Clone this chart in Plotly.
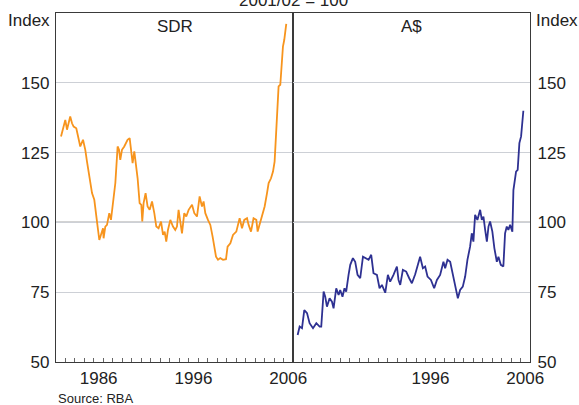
import plotly.graph_objects as go

# ---- data (decimal years, index 2001/02 = 100) ----
sdr_years = [1982.53, 1982.74, 1982.98, 1983.16, 1983.5, 1983.69, 1983.86, 1984.14, 1984.38, 1984.56,
             1984.85, 1985.09, 1985.27, 1985.54, 1985.8, 1986.04, 1986.25, 1986.39, 1986.57, 1986.78,
             1986.96, 1987.02, 1987.2, 1987.38, 1987.62, 1987.8, 1988.08, 1988.26, 1988.5, 1988.65,
             1988.78, 1988.96, 1989.2, 1989.42, 1989.55, 1989.77, 1989.94, 1990.08, 1990.26, 1990.47,
             1990.61, 1990.82, 1991.0, 1991.1, 1991.24, 1991.45, 1991.66, 1991.88, 1992.13, 1992.37,
             1992.58, 1992.82, 1993.08, 1993.29, 1993.46, 1993.63, 1993.81, 1994.06, 1994.34, 1994.58,
             1994.76, 1994.93, 1995.11, 1995.29, 1995.53, 1995.74, 1995.99, 1996.35, 1996.59, 1996.87,
             1997.15, 1997.4, 1997.57, 1997.75, 1998.03, 1998.28, 1998.52, 1998.7, 1998.88, 1999.09,
             1999.33, 1999.62, 1999.93, 2000.1, 2000.39, 2000.67, 2001.02, 2001.37, 2001.62, 2001.86,
             2002.15, 2002.32, 2002.57, 2002.84, 2003.13, 2003.27, 2003.48, 2003.73, 2004.01, 2004.26,
             2004.43, 2004.68, 2004.89, 2005.06, 2005.24, 2005.34, 2005.48, 2005.66, 2005.94, 2006.08,
             2006.29]
sdr_values = [130.8, 133.7, 136.7, 133.2, 137.9, 135.5, 134.3, 133.7, 130.2, 127.2,
              129.6, 126.0, 121.8, 115.2, 110.5, 108.1, 103.4, 98.5, 93.7, 96.2,
              97.9, 94.3, 98.5, 99.1, 103.3, 100.9, 110.5, 114.1, 127.2, 126.0,
              122.4, 126.0, 127.2, 128.4, 129.6, 130.2, 126.0, 121.2, 125.4, 120.0,
              115.8, 106.9, 106.3, 100.3, 106.9, 110.5, 105.7, 104.5, 107.5, 103.3,
              98.5, 97.9, 100.3, 95.5, 96.7, 93.1, 97.3, 100.9, 98.5, 97.3,
              98.5, 104.5, 99.7, 96.1, 103.3, 102.1, 104.5, 106.3, 103.3, 102.1,
              109.3, 105.7, 107.5, 103.3, 100.9, 99.1, 94.9, 91.3, 87.7, 86.6,
              87.2, 86.6, 86.8, 91.3, 92.5, 95.5, 96.7, 101.5, 97.9, 100.9,
              101.5, 99.1, 96.7, 101.5, 100.9, 96.7, 99.1, 102.1, 105.7, 110.5,
              114.1, 115.8, 118.2, 121.8, 132.0, 137.9, 148.7, 149.3, 163.0, 165.4,
              171.1]

aud_years = [1982.49, 1982.7, 1982.95, 1983.19, 1983.48, 1983.75, 1984.11, 1984.46, 1984.81, 1984.98,
             1985.23, 1985.4, 1985.58, 1985.86, 1986.11, 1986.28, 1986.56, 1986.81, 1986.98, 1987.22,
             1987.43, 1987.61, 1987.86, 1988.04, 1988.32, 1988.56, 1988.81, 1989.09, 1989.38, 1989.62,
             1989.97, 1990.25, 1990.49, 1990.85, 1991.13, 1991.38, 1991.73, 1992.01, 1992.25, 1992.6,
             1992.96, 1993.13, 1993.31, 1993.59, 1993.94, 1994.26, 1994.54, 1994.89, 1995.17, 1995.41,
             1995.7, 1995.94, 1996.19, 1996.55, 1996.89, 1997.18, 1997.52, 1997.87, 1998.05, 1998.3,
             1998.58, 1998.93, 1999.18, 1999.39, 1999.63, 1999.91, 2000.16, 2000.4, 2000.68, 2000.86,
             2001.03, 2001.21, 2001.45, 2001.74, 2001.92, 2002.09, 2002.27, 2002.45, 2002.62, 2002.79,
             2003.03, 2003.24, 2003.5, 2003.67, 2003.92, 2004.19, 2004.37, 2004.55, 2004.72, 2004.9,
             2005.14, 2005.25, 2005.53, 2005.7, 2005.88, 2006.06, 2006.3]
aud_values = [59.7, 62.7, 62.1, 68.6, 67.5, 63.9, 62.1, 63.9, 62.7, 62.7,
              75.2, 73.4, 69.8, 72.8, 71.6, 69.2, 76.4, 74.0, 75.8, 73.4,
              76.4, 75.2, 81.2, 84.8, 87.2, 85.9, 81.2, 80.0, 87.7, 87.2,
              86.6, 88.4, 81.8, 81.2, 76.4, 77.6, 74.8, 81.2, 78.8, 81.2,
              84.2, 79.4, 77.6, 83.0, 82.4, 80.0, 78.2, 81.4, 84.8, 87.7,
              83.6, 84.2, 80.6, 79.4, 76.4, 79.4, 81.2, 85.9, 83.6, 86.6,
              85.9, 80.0, 77.0, 72.8, 75.8, 77.0, 80.6, 86.6, 91.3, 96.1,
              93.1, 102.7, 100.9, 104.5, 100.9, 102.1, 97.3, 93.1, 98.5, 100.3,
              96.7, 90.8, 85.9, 87.7, 84.8, 84.2, 96.1, 98.5, 97.3, 99.1,
              96.7, 111.6, 118.2, 118.8, 128.4, 130.8, 140.0]

year_ticks = list(range(1983, 2007))
left_labels = ["1986", "1996", "2006"]
left_label_pos = [1986.5, 1996.5, 2006.5]
right_labels = ["1996", "2006"]
right_label_pos = [1996.5, 2006.5]
y_ticks = [50, 75, 100, 125, 150]

FONT = "Liberation Sans, Arial, sans-serif"
ORANGE = "#F7941D"
NAVY = "#2E3192"
AXC = "#3a3a3a"
GRID = "#CDD0D6"

fig = go.Figure()
fig.add_trace(go.Scatter(x=sdr_years, y=sdr_values, mode="lines",
                         line=dict(color=ORANGE, width=1.8), xaxis="x", yaxis="y", showlegend=False))
fig.add_trace(go.Scatter(x=aud_years, y=aud_values, mode="lines",
                         line=dict(color=NAVY, width=1.8), xaxis="x2", yaxis="y2", showlegend=False))

xcommon = dict(range=[1982, 2007], showline=True, mirror=True, linecolor=AXC, linewidth=1.3,
               showgrid=False, zeroline=False, ticks="", tickmode="array",
               tickfont=dict(family=FONT, size=17, color="#222"),
               minor=dict(tickmode="array", tickvals=year_ticks, ticks="inside", ticklen=4,
                          tickcolor="#666", tickwidth=1, showgrid=False))
ycommon = dict(range=[50, 175], showline=True, mirror=True, linecolor=AXC, linewidth=1.3,
               showgrid=True, gridcolor=GRID, gridwidth=1, zeroline=False,
               tickmode="array", tickvals=y_ticks, ticks="",
               tickfont=dict(family=FONT, size=17, color="#222"))

fig.update_layout(
    width=579, height=405,
    margin=dict(l=56, r=49, t=13, b=43),
    paper_bgcolor="white", plot_bgcolor="white",
    xaxis=dict(domain=[0, 0.5], anchor="y", tickvals=left_label_pos, ticktext=left_labels, **xcommon),
    xaxis2=dict(domain=[0.5, 1], anchor="y2", tickvals=right_label_pos, ticktext=right_labels, **xcommon),
    yaxis=dict(anchor="x", side="left", ticklabelstandoff=2, **ycommon),
    yaxis2=dict(anchor="x2", side="right", ticklabelstandoff=3, **ycommon),
    font=dict(family=FONT, color="#222"),
)

# dark reference line at 100 in both panels
for xr, yr in (("x", "y"), ("x2", "y2")):
    fig.add_shape(type="line", xref=xr, yref=yr, x0=1982, x1=2007, y0=100, y1=100,
                  line=dict(color="#505050", width=1.3), layer="below")

ann_font = dict(family=FONT, size=17, color="#222")
fig.add_annotation(text="2001/02 = 100", xref="paper", yref="paper", x=0.5, y=1.037,
                   xanchor="center", yanchor="middle", showarrow=False, font=ann_font)
fig.add_annotation(text="Index", xref="paper", yref="paper", x=-0.009, y=0.978,
                   xanchor="right", yanchor="middle", showarrow=False, font=ann_font)
fig.add_annotation(text="Index", xref="paper", yref="paper", x=1.009, y=0.978,
                   xanchor="left", yanchor="middle", showarrow=False, font=ann_font)
fig.add_annotation(text="SDR", xref="paper", yref="paper", x=0.25, y=0.962,
                   xanchor="center", yanchor="middle", showarrow=False, font=ann_font)
fig.add_annotation(text="A$", xref="paper", yref="paper", x=0.75, y=0.962,
                   xanchor="center", yanchor="middle", showarrow=False, font=ann_font)
fig.add_annotation(text="Source: RBA", xref="paper", yref="paper", x=0.0, y=-0.106,
                   xanchor="left", yanchor="middle", showarrow=False,
                   font=dict(family=FONT, size=13, color="#222"))

fig.write_html("out.html", config={"displayModeBar": False},
               post_script="document.body.style.margin='0';document.body.style.padding='0';")
